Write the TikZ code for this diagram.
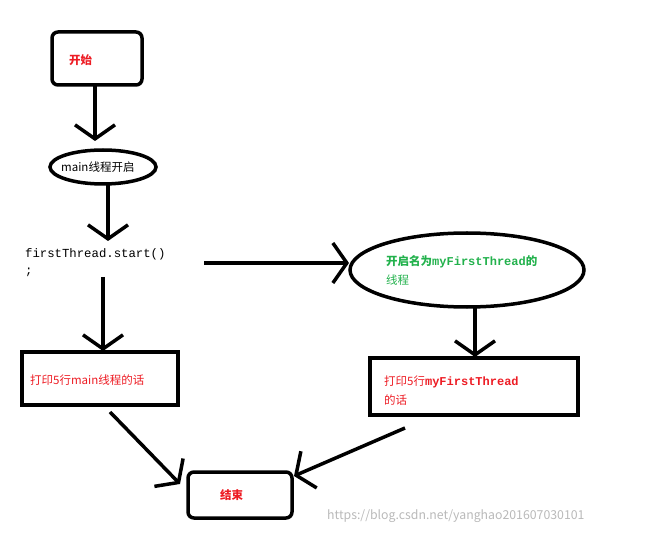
\documentclass[tikz,border=0pt]{standalone}
\usepackage{fontspec}
\setmainfont{Noto Sans CJK SC}
\newfontfamily\monof{Liberation Mono}
\usetikzlibrary{arrows.meta,shapes.geometric}
\definecolor{myred}{RGB}{237,28,36}
\definecolor{mygreen}{RGB}{34,177,76}
\begin{document}
\begin{tikzpicture}[x=1pt,y=-1pt,
  blk/.style={draw,line width=3.5pt,inner sep=0pt},
  conn/.style={line width=3.5pt,-{Straight Barb[length=14pt,width=40pt,line width=3.5pt]}},
  lbl/.style={font=\fontsize{11.5}{13}\selectfont,anchor=west,inner sep=0pt}]
\useasboundingbox (0,0) rectangle (647,534);
\node[blk,rounded corners=6pt,minimum width=90pt,minimum height=53pt] (start) at (97,58.5) {};
\node[lbl,text=myred] at (69,60) {\textbf{开始}};
\node[blk,ellipse,minimum width=106pt,minimum height=34pt] (main) at (103,167) {};
\node[lbl] at (61,167) {main线程开启};
\node[lbl,font=\monof\fontsize{12.3}{17}\selectfont,align=left] (fs) at (25,263) {firstThread.start()\\;};
\coordinate (fsr) at (204,263);
\node[blk,minimum width=156pt,minimum height=53pt] (pm) at (100,378.5) {};
\node[lbl,text=myred] at (30,380) {打印5行main线程的话};
\node[blk,ellipse,minimum width=234pt,minimum height=74pt] (th) at (467,270) {};
\node[lbl,text=mygreen,align=left] at (386,270) {\textbf{开启名为}{\monof\bfseries\fontsize{12}{13}\selectfont myFirstThread}\textbf{的}\\[6pt]线程};
\node[blk,minimum width=208pt,minimum height=57pt] (pt) at (474,386.5) {};
\node[lbl,text=myred,align=left] at (384,391) {打印5行{\monof\bfseries\fontsize{12}{13}\selectfont myFirstThread}\\[6pt]的话};
\node[blk,rounded corners=6pt,minimum width=104pt,minimum height=46pt] (end) at (240,495) {};
\node[lbl,text=myred] at (220,495) {\textbf{结束}};
\node[lbl,text=gray!55,font=\fontsize{12.3}{13}\selectfont] at (327,516) {https://blog.csdn.net/yanghao201607030101};
\draw[conn] (95,85) -- (95,141);
\draw[conn] (108,185) -- (108,241);
\draw[conn] (103,277) -- (103,351);
\draw[conn] (fsr) -- (349,263);
\draw[conn] (475,307) -- (475,357);
\draw[conn] (110,412) -- (180,484);
\draw[conn] (405,428) -- (294,476);
\end{tikzpicture}
\end{document}
